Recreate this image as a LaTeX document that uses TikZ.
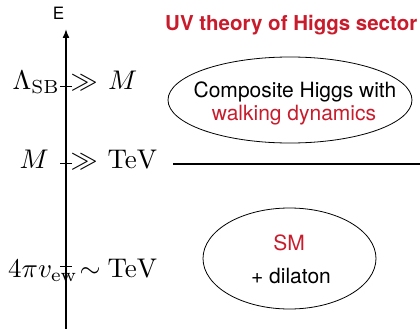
\documentclass[tikz,border=0pt]{standalone}
\usepackage[no-math]{fontspec}
\setsansfont{TeX Gyre Heros}
\usetikzlibrary{arrows.meta,shapes.geometric}
\definecolor{hred}{RGB}{200,28,44}
\newcommand{\bigmath}[1]{\scalebox{2.7}{$#1$}}
\begin{document}
\begin{tikzpicture}[x=1pt,y=-1pt,
  mathlbl/.style={inner sep=0pt, font=\normalsize},
  sanslbl/.style={inner sep=0pt, font=\sffamily\fontsize{21}{25}\selectfont},
  titlelbl/.style={inner sep=0pt, text=hred, font=\sffamily\bfseries\fontsize{20.5}{24}\selectfont},
  oval/.style={draw, ellipse, inner sep=0pt, line width=0.8pt},
  tickline/.style={line width=0.8pt},
  axisline/.style={line width=1.6pt, -{Latex[length=9pt,width=7pt]}}]
\useasboundingbox (0,0) rectangle (420,329);
% axis
\coordinate (axb) at (66,329);
\coordinate (axt) at (66,29);
\draw[axisline] (axb) -- (axt);
\node[inner sep=0pt, font=\sffamily\fontsize{17}{20}\selectfont] (E) at (58.5,13) {E};
% ticks
\coordinate (t1a) at (60,86); \coordinate (t1b) at (72,86);
\coordinate (t2a) at (60,163); \coordinate (t2b) at (72,163);
\coordinate (t3a) at (60,266); \coordinate (t3b) at (72,266);
\draw[tickline] (t1a) -- (t1b);
\draw[tickline] (t2a) -- (t2b);
\draw[tickline] (t3a) -- (t3b);
% labels
\node[mathlbl, anchor=base east] (lsb) at (60,89) {\bigmath{\Lambda_{\rm SB}}};
\node[mathlbl, anchor=base west] (gg1) at (70.5,89) {\bigmath{\gg}};
\node[mathlbl, anchor=base west] (m1) at (108,89) {\bigmath{M}};
\node[mathlbl, anchor=base east] (m2) at (49,168) {\bigmath{M}};
\node[mathlbl, anchor=base west] (gg2) at (70.5,168) {\bigmath{\gg}};
\node[mathlbl, anchor=base west] (tev2) at (107.5,168) {\bigmath{\rm TeV}};
\node[mathlbl, anchor=base west] (vew) at (8,277) {\bigmath{4\pi v_{\rm ew}}};
\node[mathlbl, anchor=base west] (sim) at (79.5,277) {\bigmath{\sim}};
\node[mathlbl, anchor=base west] (tev3) at (107.5,277) {\bigmath{\rm TeV}};
% title
\node[titlelbl, anchor=base west] (title) at (165,31) {UV theory of Higgs sector};
% upper ellipse
\node[oval, minimum width=244pt, minimum height=86pt] (uv) at (290,100) {};
\node[sanslbl, anchor=base] (c1) at (295,97) {Composite Higgs with};
\node[sanslbl, anchor=base, text=hred] (c2) at (294,120) {walking dynamics};
% scale line
\coordinate (la) at (173,164);
\coordinate (lb) at (420,164);
\draw[line width=1.6pt] (la) -- (lb);
% lower ellipse
\node[oval, minimum width=173pt, minimum height=101pt] (sm) at (289.5,258.5) {};
\node[sanslbl, anchor=base, text=hred] (s1) at (289,250) {SM};
\node[sanslbl, anchor=base] (s2) at (291,283) {+ dilaton};
\end{tikzpicture}
\end{document}
